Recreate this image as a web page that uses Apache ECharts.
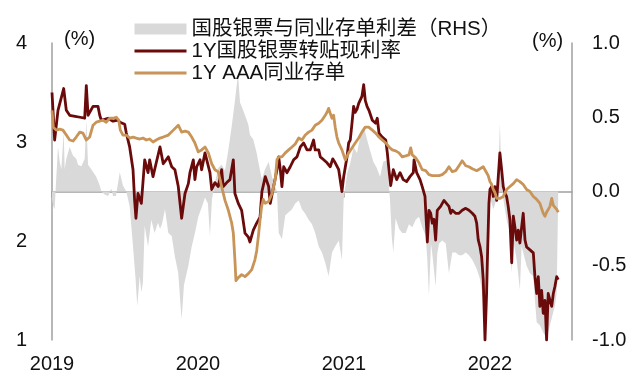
<!DOCTYPE html>
<html><head><meta charset="utf-8">
<script src="https://cdn.jsdelivr.net/npm/echarts@6/dist/echarts.min.js"></script>
<style>html,body{margin:0;padding:0;background:#fff}#c{width:640px;height:387px}</style>
</head><body><div id="c"></div>
<script>
// Series names
const nameSpread = '国股银票与同业存单利差（RHS）';
const nameBill = '1Y国股银票转贴现利率';
const nameNcd = '1Y AAA同业存单';
const yearTicks = [2019, 2020, 2021, 2022];

// 1Y bank bill discount rate (%), time in decimal years
const billT = [2019.000,2019.018,2019.041,2019.080,2019.098,2019.121,2019.158,2019.192,2019.224,2019.235,2019.247,2019.281,2019.315,2019.327,2019.338,2019.384,2019.418,2019.452,2019.466,2019.498,2019.509,2019.532,2019.555,2019.566,2019.575,2019.589,2019.612,2019.635,2019.658,2019.669,2019.692,2019.714,2019.740,2019.762,2019.797,2019.820,2019.842,2019.865,2019.888,2019.911,2019.934,2019.945,2019.968,2019.979,2019.991,2020.014,2020.025,2020.048,2020.082,2020.094,2020.116,2020.139,2020.162,2020.173,2020.197,2020.219,2020.242,2020.253,2020.276,2020.299,2020.322,2020.345,2020.356,2020.379,2020.402,2020.425,2020.438,2020.461,2020.484,2020.495,2020.518,2020.541,2020.553,2020.564,2020.575,2020.587,2020.610,2020.632,2020.655,2020.678,2020.701,2020.724,2020.747,2020.769,2020.792,2020.803,2020.827,2020.838,2020.861,2020.884,2020.906,2020.923,2020.940,2020.964,2020.986,2020.998,2021.021,2021.032,2021.043,2021.055,2021.066,2021.077,2021.089,2021.101,2021.123,2021.135,2021.146,2021.158,2021.171,2021.194,2021.217,2021.228,2021.240,2021.262,2021.286,2021.297,2021.308,2021.320,2021.338,2021.361,2021.384,2021.406,2021.429,2021.452,2021.475,2021.480,2021.498,2021.521,2021.536,2021.555,2021.571,2021.582,2021.594,2021.605,2021.616,2021.628,2021.639,2021.662,2021.685,2021.697,2021.719,2021.731,2021.742,2021.765,2021.788,2021.810,2021.834,2021.856,2021.879,2021.897,2021.909,2021.920,2021.932,2021.943,2021.954,2021.966,2021.977,2021.984,2021.993,2022.000,2022.012,2022.023,2022.034,2022.046,2022.057,2022.068,2022.080,2022.091,2022.103,2022.114,2022.125,2022.137,2022.149,2022.160,2022.171,2022.183,2022.194,2022.205,2022.217,2022.228,2022.240,2022.251,2022.262,2022.274,2022.286,2022.297,2022.308,2022.320,2022.331,2022.342,2022.354,2022.365,2022.377,2022.388,2022.399,2022.411,2022.423,2022.434,2022.445,2022.457,2022.468];
const billV = [3.50,3.02,3.32,3.54,3.32,3.27,3.26,3.25,3.24,3.57,3.27,3.36,3.36,3.27,3.22,3.24,3.21,3.22,3.20,3.18,3.09,2.95,2.72,2.41,2.23,2.48,2.38,2.82,2.69,2.82,2.65,2.79,2.95,2.78,2.85,2.75,2.72,2.55,2.23,2.48,2.58,2.69,2.82,2.62,2.75,2.82,2.72,2.89,2.69,2.52,2.59,2.55,2.72,2.55,2.59,2.62,2.82,2.48,2.38,2.31,2.08,2.04,1.99,2.11,2.18,2.24,2.50,2.65,2.55,2.38,2.55,2.72,2.85,2.72,2.55,2.75,2.69,2.75,2.82,2.85,2.95,2.99,2.92,2.92,3.02,2.92,2.92,2.85,2.82,2.79,2.75,2.83,2.79,2.72,2.50,2.65,2.85,2.99,3.02,3.19,3.36,3.30,3.33,3.39,3.46,3.58,3.42,3.36,3.32,3.22,3.19,3.24,3.09,3.05,3.02,2.89,2.72,2.56,2.72,2.62,2.69,2.62,2.60,2.65,2.69,2.82,2.69,2.62,2.55,2.45,1.99,2.31,2.28,2.18,2.22,2.01,2.31,2.35,2.41,2.39,2.35,2.28,2.31,2.28,2.28,2.31,2.33,2.31,2.28,2.25,2.18,2.01,1.94,1.84,1.61,1.00,1.47,1.90,2.38,2.52,2.55,2.45,2.55,2.41,2.65,2.89,2.72,2.55,2.48,2.45,2.35,2.21,1.78,2.25,2.14,2.01,2.11,1.98,2.14,2.28,2.01,1.94,1.94,1.91,1.90,1.88,1.64,1.47,1.64,1.34,1.50,1.27,1.40,1.00,1.47,1.40,1.34,1.47,1.54,1.64,1.61];

// 1Y AAA NCD rate (%)
const ncdT = [2019.000,2019.009,2019.029,2019.053,2019.075,2019.098,2019.121,2019.144,2019.166,2019.190,2019.212,2019.235,2019.258,2019.281,2019.303,2019.327,2019.349,2019.372,2019.395,2019.418,2019.440,2019.457,2019.468,2019.486,2019.509,2019.532,2019.555,2019.577,2019.601,2019.623,2019.646,2019.669,2019.692,2019.714,2019.740,2019.762,2019.797,2019.831,2019.865,2019.888,2019.911,2019.934,2019.957,2019.979,2020.002,2020.025,2020.048,2020.071,2020.094,2020.116,2020.139,2020.162,2020.185,2020.208,2020.231,2020.242,2020.253,2020.260,2020.276,2020.299,2020.322,2020.345,2020.368,2020.390,2020.402,2020.413,2020.425,2020.436,2020.447,2020.461,2020.484,2020.507,2020.529,2020.541,2020.553,2020.575,2020.598,2020.621,2020.644,2020.666,2020.690,2020.712,2020.735,2020.758,2020.781,2020.803,2020.827,2020.849,2020.872,2020.884,2020.895,2020.906,2020.918,2020.929,2020.940,2020.952,2020.964,2020.986,2021.009,2021.021,2021.032,2021.055,2021.077,2021.101,2021.123,2021.146,2021.169,2021.194,2021.217,2021.240,2021.262,2021.286,2021.308,2021.331,2021.354,2021.377,2021.399,2021.423,2021.445,2021.457,2021.468,2021.491,2021.514,2021.536,2021.560,2021.582,2021.605,2021.628,2021.651,2021.673,2021.697,2021.719,2021.742,2021.765,2021.788,2021.810,2021.834,2021.856,2021.879,2021.909,2021.932,2021.954,2021.966,2021.977,2021.988,2022.000,2022.012,2022.023,2022.034,2022.046,2022.057,2022.068,2022.091,2022.114,2022.137,2022.160,2022.183,2022.205,2022.228,2022.251,2022.274,2022.297,2022.320,2022.342,2022.365,2022.377,2022.388,2022.411,2022.423,2022.434,2022.445,2022.457,2022.468];
const ncdV = [3.32,3.15,3.12,3.13,3.12,3.07,3.02,3.01,3.05,3.10,3.09,3.02,3.05,3.17,3.20,3.21,3.22,3.20,3.24,3.24,3.25,3.22,3.12,3.07,3.07,3.04,3.05,3.04,3.03,3.04,3.02,3.03,3.00,3.02,3.04,3.05,3.07,3.12,3.17,3.10,3.11,3.10,3.05,2.99,2.90,2.92,2.95,2.89,2.78,2.72,2.70,2.55,2.41,2.31,2.18,2.08,1.81,1.60,1.63,1.66,1.64,1.67,1.71,1.81,1.90,2.04,2.21,2.35,2.42,2.38,2.40,2.48,2.62,2.82,2.85,2.85,2.89,2.92,2.95,2.98,3.04,3.02,3.07,3.10,3.12,3.17,3.19,3.22,3.27,3.30,3.34,3.29,3.24,3.27,3.15,3.05,2.99,2.92,2.82,2.82,2.89,2.94,2.99,3.04,3.10,3.15,3.15,3.12,3.09,3.05,3.02,2.99,2.95,2.92,2.91,2.89,2.85,2.86,2.87,2.94,2.87,2.84,2.79,2.72,2.71,2.67,2.66,2.66,2.66,2.67,2.70,2.75,2.70,2.71,2.76,2.81,2.76,2.75,2.73,2.71,2.73,2.75,2.77,2.69,2.66,2.60,2.57,2.52,2.49,2.43,2.42,2.43,2.45,2.52,2.55,2.58,2.62,2.60,2.57,2.52,2.50,2.45,2.42,2.38,2.28,2.25,2.29,2.35,2.43,2.36,2.38,2.32,2.29];

// Spread (RHS, %)
const spreadT = [2019.000,2019.009,2019.018,2019.027,2019.041,2019.053,2019.064,2019.080,2019.087,2019.098,2019.121,2019.144,2019.166,2019.178,2019.201,2019.224,2019.235,2019.247,2019.269,2019.281,2019.303,2019.327,2019.338,2019.361,2019.384,2019.406,2019.418,2019.438,2019.464,2019.486,2019.509,2019.532,2019.555,2019.571,2019.584,2019.601,2019.612,2019.623,2019.635,2019.658,2019.680,2019.703,2019.726,2019.740,2019.753,2019.774,2019.797,2019.820,2019.842,2019.865,2019.877,2019.888,2019.904,2019.934,2019.957,2019.979,2020.002,2020.025,2020.048,2020.068,2020.082,2020.096,2020.116,2020.139,2020.162,2020.185,2020.208,2020.231,2020.253,2020.274,2020.288,2020.308,2020.327,2020.345,2020.356,2020.379,2020.402,2020.413,2020.425,2020.438,2020.459,2020.484,2020.507,2020.529,2020.541,2020.553,2020.575,2020.598,2020.621,2020.644,2020.666,2020.690,2020.712,2020.735,2020.758,2020.781,2020.803,2020.827,2020.849,2020.872,2020.895,2020.918,2020.940,2020.964,2020.986,2020.998,2021.021,2021.043,2021.066,2021.089,2021.112,2021.135,2021.158,2021.178,2021.201,2021.224,2021.247,2021.269,2021.292,2021.301,2021.315,2021.327,2021.338,2021.354,2021.377,2021.399,2021.423,2021.445,2021.468,2021.491,2021.514,2021.536,2021.560,2021.571,2021.582,2021.596,2021.605,2021.628,2021.639,2021.651,2021.673,2021.697,2021.719,2021.742,2021.765,2021.788,2021.810,2021.834,2021.856,2021.879,2021.909,2021.932,2021.954,2021.966,2021.977,2021.988,2022.000,2022.012,2022.023,2022.046,2022.057,2022.068,2022.080,2022.091,2022.114,2022.137,2022.149,2022.160,2022.183,2022.205,2022.217,2022.228,2022.251,2022.274,2022.297,2022.308,2022.320,2022.342,2022.365,2022.388,2022.411,2022.434,2022.445,2022.457,2022.468];
const spreadV = [-0.05,-0.10,-0.12,0.05,0.30,0.20,0.15,0.40,0.15,0.22,0.30,0.24,0.22,0.18,0.17,0.22,0.48,0.18,0.15,0.14,0.10,0.04,0.00,-0.02,-0.03,0.02,-0.03,-0.03,0.13,0.04,0.00,-0.10,-0.37,-0.57,-0.77,-0.57,-0.68,-0.61,-0.23,-0.37,-0.19,-0.28,-0.21,-0.25,-0.22,-0.12,-0.28,-0.30,-0.44,-0.55,-0.72,-0.86,-0.63,-0.50,-0.37,-0.28,-0.17,-0.11,-0.04,-0.08,-0.30,-0.05,0.06,0.16,0.18,0.14,0.28,0.44,0.61,0.79,0.60,0.55,0.50,0.45,0.38,0.35,0.26,0.20,0.14,0.08,0.15,0.20,0.10,0.03,0.00,-0.28,-0.32,-0.16,-0.14,-0.12,-0.08,-0.06,-0.12,-0.15,-0.19,-0.22,-0.28,-0.37,-0.41,-0.48,-0.57,-0.41,-0.37,-0.33,-0.46,-0.05,0.12,0.19,0.30,0.26,0.37,0.44,0.35,0.28,0.20,0.16,0.10,0.20,0.21,0.12,-0.05,-0.30,-0.41,-0.18,-0.25,-0.28,-0.28,-0.22,-0.24,-0.19,-0.17,-0.24,-0.30,-0.46,-0.70,-0.35,-0.42,-0.64,-0.42,-0.35,-0.33,-0.35,-0.55,-0.41,-0.41,-0.43,-0.43,-0.41,-0.43,-0.46,-0.52,-0.59,-0.73,-0.97,-0.68,-0.23,-0.05,-0.08,-0.12,-0.05,0.10,0.46,0.05,-0.05,-0.19,-0.28,-0.55,-0.33,-0.46,-0.66,-0.37,-0.37,-0.50,-0.55,-0.57,-0.73,-0.88,-0.90,-0.95,-0.99,-0.90,-0.81,-0.77,-0.68,-0.68];

const zip = (t, v) => t.slice(0, Math.min(t.length, v.length)).map((x, i) => [x, v[i]]);

const FONT = '"Liberation Sans", Arial, "Noto Sans CJK SC", sans-serif';
const AXIS_GREY = '#a0a0a0';
const RED = '#6b0a0a', TAN = '#c89458', GREY = '#d9d9d9';
const chart = echarts.init(document.getElementById('c'), null, {renderer: 'canvas'});
chart.setOption({
  animation: false,
  backgroundColor: '#fff',
  textStyle: {fontFamily: FONT},
  grid: {left: 52, right: 68, top: 43, bottom: 47, containLabel: false},
  legend: {
    orient: 'vertical', left: 128, top: 13,
    itemWidth: 52, itemHeight: 11, itemGap: 0,
    textStyle: {fontSize: 20.5, lineHeight: 22, color: '#111', fontFamily: FONT},
    data: [
      {name: nameSpread, icon: 'rect', itemStyle: {color: GREY}},
      {name: nameBill, itemStyle: {opacity: 0}, lineStyle: {color: RED, width: 3}},
      {name: nameNcd, itemStyle: {opacity: 0}, lineStyle: {color: TAN, width: 3}}
    ]
  },
  graphic: [
    {type: 'text', left: 64, top: 29, style: {text: '(%)', font: '20px ' + FONT, fill: '#111'}},
    {type: 'text', left: 532, top: 31, style: {text: '(%)', font: '20px ' + FONT, fill: '#111'}}
  ],
  xAxis: {
    type: 'value', min: 2019, max: 2022.562,
    axisLine: {show: true, lineStyle: {color: AXIS_GREY, width: 1.5}},
    axisTick: {show: true, customValues: yearTicks, length: 6, lineStyle: {color: AXIS_GREY, width: 1.5}},
    axisLabel: {customValues: yearTicks, formatter: v => String(Math.round(v)), fontSize: 20, color: '#111', margin: 14, fontFamily: FONT},
    splitLine: {show: false}
  },
  yAxis: [
    {
      type: 'value', min: 1, max: 4, interval: 1, position: 'left',
      axisLine: {show: true, lineStyle: {color: AXIS_GREY, width: 1.5}},
      axisTick: {show: false},
      axisLabel: {fontSize: 20, color: '#111', margin: 25, fontFamily: FONT},
      splitLine: {show: false}
    },
    {
      type: 'value', min: -1, max: 1, interval: 0.5, position: 'right',
      axisLine: {show: true, lineStyle: {color: AXIS_GREY, width: 1.5}},
      axisTick: {show: false},
      axisLabel: {fontSize: 20, color: '#111', margin: 20, fontFamily: FONT, formatter: v => v.toFixed(1)},
      splitLine: {show: false}
    }
  ],
  series: [
    {
      name: nameSpread, type: 'line', yAxisIndex: 1, data: zip(spreadT, spreadV),
      symbol: 'none', color: GREY,
      lineStyle: {width: 0, color: GREY},
      areaStyle: {color: GREY, opacity: 1, origin: 0},
      z: 1
    },
    {
      name: nameBill, type: 'line', yAxisIndex: 0, data: zip(billT, billV),
      symbol: 'none', color: RED,
      lineStyle: {width: 2.8, color: RED, join: 'round'},
      z: 3
    },
    {
      name: nameNcd, type: 'line', yAxisIndex: 0, data: zip(ncdT, ncdV),
      symbol: 'none', color: TAN,
      lineStyle: {width: 2.8, color: TAN, join: 'round'},
      z: 4
    }
  ]
});
</script></body></html>
